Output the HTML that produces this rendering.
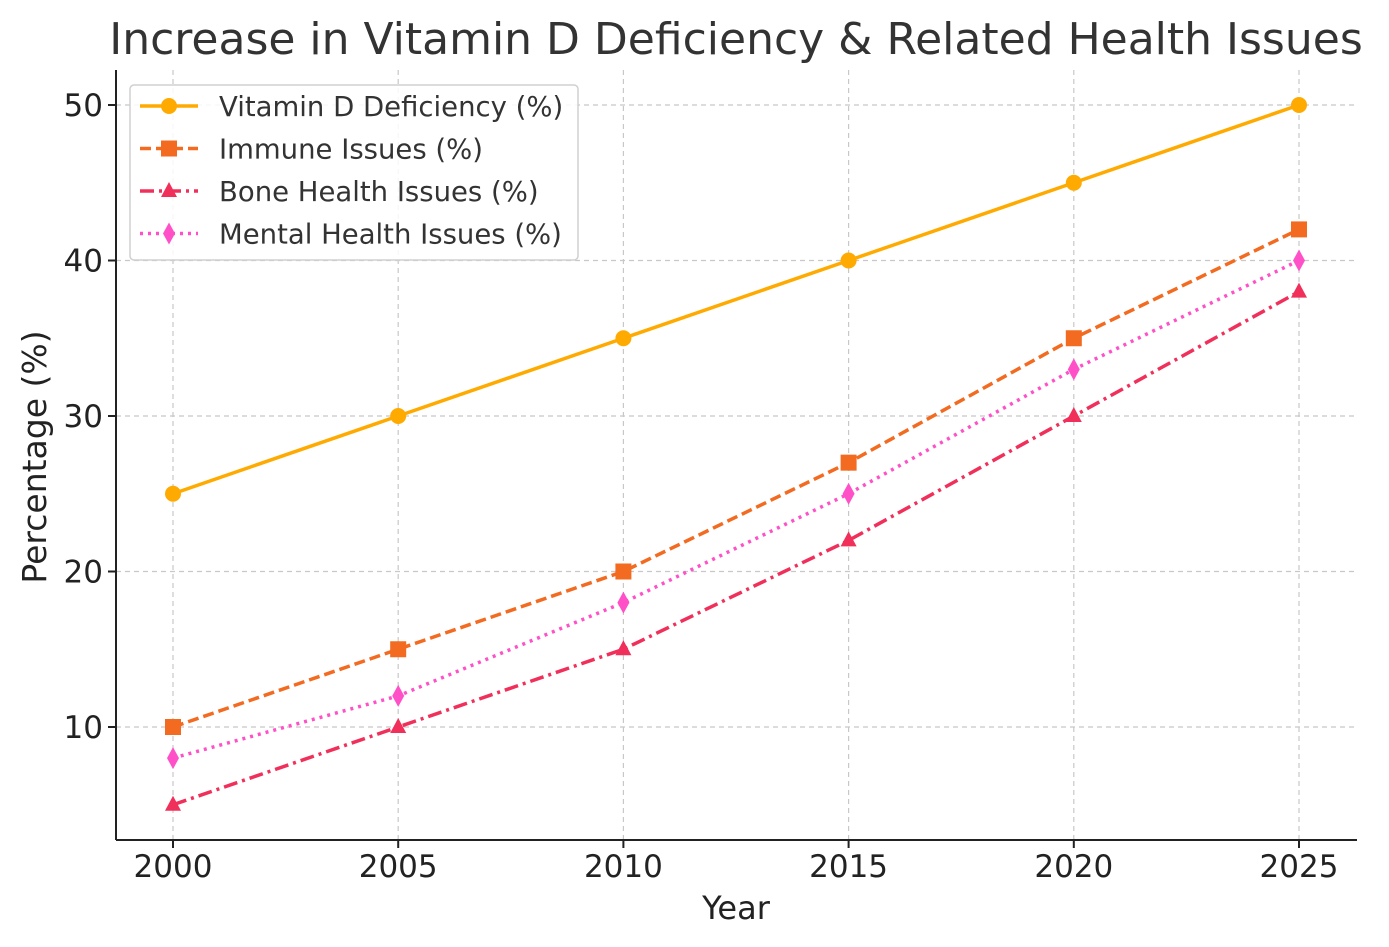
<!DOCTYPE html>
<html><head><meta charset="utf-8"><style>
html,body{margin:0;padding:0;background:#fff;}
svg{display:block;font-family:"DejaVu Sans","Liberation Sans",sans-serif;}
</style></head><body>
<svg id="chart" width="1389" height="947" xmlns="http://www.w3.org/2000/svg">
<text x="736" y="54" font-size="44" fill="#333" text-anchor="middle">Increase in Vitamin D Deficiency &amp; Related Health Issues</text>
<g id="grid"></g>
<g id="ticks"></g>
<g id="series"></g>
<line x1="116" y1="70" x2="116" y2="840" stroke="#222" stroke-width="2"/>
<line x1="116" y1="840" x2="1357" y2="840" stroke="#222" stroke-width="2"/>
<text x="736" y="919" font-size="32" fill="#222" text-anchor="middle">Year</text>
<text transform="translate(46,457) rotate(-90)" font-size="33" fill="#222" text-anchor="middle">Percentage (%)</text>
<g id="legend"></g>
</svg>
<script>
const years=[2000,2005,2010,2015,2020,2025];
const vitaminD=[25,30,35,40,45,50];
const immune=[10,15,20,27,35,42];
const bone=[5,10,15,22,30,38];
const mental=[8,12,18,25,33,40];
const yTicks=[10,20,30,40,50];
const seriesNames=["Vitamin D Deficiency (%)","Immune Issues (%)","Bone Health Issues (%)","Mental Health Issues (%)"];
const NS="http://www.w3.org/2000/svg";
function xs(v){return 173+(v-2000)*(1299-173)/25;}
function ys(v){return 727-(v-10)*(727-105)/40;}
function mk(tag,attrs,parent){const e=document.createElementNS(NS,tag);for(const k in attrs)e.setAttribute(k,attrs[k]);parent.appendChild(e);return e;}
const grid=document.getElementById('grid'),ticks=document.getElementById('ticks'),ser=document.getElementById('series'),leg=document.getElementById('legend');
years.forEach(y=>{const x=xs(y);
 const g=mk('line',{x1:x,y1:70,x2:x,y2:840,stroke:'#c8c8c8','stroke-width':1.2,'stroke-dasharray':'5,4'},grid);
 
 
 const t=mk('line',{x1:x,y1:840,x2:x,y2:848,stroke:'#222','stroke-width':2},ticks);
 
 
 const l=mk('text',{x:x,y:877,'font-size':31,fill:'#222','text-anchor':'middle'},ticks);l.textContent=y;
 
 
});
yTicks.forEach(v=>{const y=ys(v);
 const g=mk('line',{x1:116,y1:y,x2:1357,y2:y,stroke:'#c8c8c8','stroke-width':1.2,'stroke-dasharray':'5,4'},grid);
 
 
 const t=mk('line',{x1:108,y1:y,x2:116,y2:y,stroke:'#222','stroke-width':2},ticks);
 
 
 const l=mk('text',{x:103,y:y+11,'font-size':31,fill:'#222','text-anchor':'end'},ticks);l.textContent=v;
 
 
});
const defs=[
 {data:vitaminD,color:'#ffaa00',dash:'',m:'circle'},
 {data:immune,color:'#f26b21',dash:'11,5',m:'square'},
 {data:bone,color:'#f0305a',dash:'14,5,3,5',m:'tri'},
 {data:mental,color:'#ff50c8',dash:'3,5',m:'diamond'}];
function marker(type,x,y,c,p){
 if(type==='circle')return mk('circle',{cx:x,cy:y,r:8,fill:c},p);
 if(type==='square')return mk('rect',{x:x-8,y:y-8,width:16,height:16,fill:c},p);
 if(type==='tri')return mk('polygon',{points:`${x},${y-9} ${x+8},${y+6} ${x-8},${y+6}`,fill:c},p);
 return mk('polygon',{points:`${x},${y-11} ${x+6},${y} ${x},${y+11} ${x-6},${y}`,fill:c},p);
}
defs.forEach((d,i)=>{
 const pts=d.data.map((v,j)=>xs(years[j])+','+ys(v)).join(' ');
 const pl=mk('polyline',{points:pts,fill:'none',stroke:d.color,'stroke-width':3.5,'stroke-dasharray':d.dash},ser);
 
 
 d.data.forEach((v,j)=>{const m=marker(d.m,xs(years[j]),ys(v),d.color,ser);
  
  });
});
const box=mk('rect',{x:130,y:85,width:448,height:175,rx:4,fill:'#fff','fill-opacity':0.85,stroke:'#d0d0d0','stroke-width':1.5},leg);


defs.forEach((d,i)=>{const y=106+i*42.5;
 const g=mk('g',{},leg);
 
 
 mk('line',{x1:140,y1:y,x2:198,y2:y,stroke:d.color,'stroke-width':3.5,'stroke-dasharray':d.dash},g);
 marker(d.m,169,y,d.color,g);
 const t=mk('text',{x:219,y:y+10,'font-size':27.5,fill:'#333'},g);t.textContent=seriesNames[i];
});
</script>
</body></html>
